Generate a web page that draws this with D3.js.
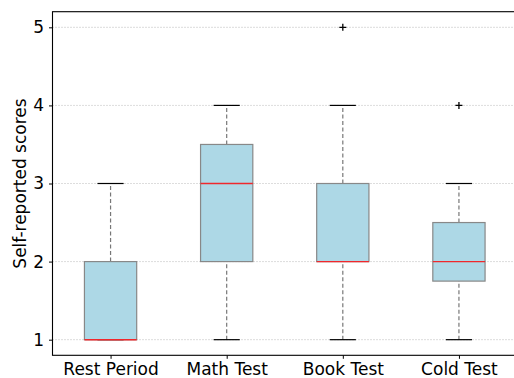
<!DOCTYPE html>
<html>
<head>
<meta charset="utf-8">
<script src="https://cdn.jsdelivr.net/npm/d3@7"></script>
<style>
  html, body { margin: 0; padding: 0; background: #fff; }
  svg { display: block; font-family: "DejaVu Sans", sans-serif; }
</style>
</head>
<body>
<svg id="chart" width="514" height="378"></svg>
<script>
// Conditions along the x axis
const categories = ["Rest Period", "Math Test", "Book Test", "Cold Test"];
// Five-number summaries per condition
const whiskerLow = [1, 1, 1, 1];
const q1Values = [1, 2, 2, 1.75];
const medians = [1, 3, 2, 2];
const q3Values = [2, 3.5, 3, 2.5];
const whiskerHigh = [3, 4, 4, 3];
// Points beyond the whiskers
const outliers = [[], [], [5], [4]];
const yTicks = [1, 2, 3, 4, 5];

const svg = d3.select("#chart");
const margin = { left: 53, right: -3, top: 11.7, bottom: 22.7 };
const W = 514, H = 378;
const fontSize = "17px";

const x = d3.scaleLinear().domain([0.5, 4.5]).range([margin.left - 0.5, W - margin.right]);
const y = d3.scaleLinear().domain([0.8, 5.2]).range([H - margin.bottom, margin.top]);

const boxHalf = 0.225;  // in category units
const capHalf = 0.1125;

// horizontal dotted grid
svg.append("g").selectAll("line").data(yTicks).join("line")
  .attr("x1", x(0.5)).attr("x2", x(4.5))
  .attr("y1", d => y(d)).attr("y2", d => y(d))
  .attr("stroke", "#a8a8a8").attr("stroke-width", 0.8)
  .attr("stroke-dasharray", "1,2");

const g = svg.append("g");
categories.forEach((c, i) => {
  const p = i + 1;
  const cx = x(p);
  // whiskers
  [[whiskerLow[i], q1Values[i]], [q3Values[i], whiskerHigh[i]]].forEach(([a, b]) => {
    if (a !== b) {
      g.append("line").attr("x1", cx).attr("x2", cx)
        .attr("y1", y(a)).attr("y2", y(b))
        .attr("stroke", "#777").attr("stroke-width", 1.2)
        .attr("stroke-dasharray", "4,2.5");
    }
  });
  // box
  g.append("rect")
    .attr("x", x(p - boxHalf)).attr("width", x(p + boxHalf) - x(p - boxHalf))
    .attr("y", y(q3Values[i])).attr("height", y(q1Values[i]) - y(q3Values[i]))
    .attr("fill", "#add8e6").attr("stroke", "#888").attr("stroke-width", 1.2);
  // caps
  [whiskerLow[i], whiskerHigh[i]].forEach(v => {
    g.append("line").attr("x1", x(p - capHalf)).attr("x2", x(p + capHalf))
      .attr("y1", y(v)).attr("y2", y(v))
      .attr("stroke", "#000").attr("stroke-width", 1.2);
  });
  // median
  g.append("line").attr("x1", x(p - boxHalf)).attr("x2", x(p + boxHalf))
    .attr("y1", y(medians[i])).attr("y2", y(medians[i]))
    .attr("stroke", "#f0282c").attr("stroke-width", 1.4);
  // outliers as '+'
  outliers[i].forEach(v => {
    const oy = y(v);
    g.append("path")
      .attr("d", `M${cx - 3.5},${oy}H${cx + 3.5}M${cx},${oy - 3.5}V${oy + 3.5}`)
      .attr("stroke", "#000").attr("stroke-width", 1.3).attr("fill", "none");
  });
});

// axes
const xAxis = d3.axisBottom(x).tickValues([1, 2, 3, 4])
  .tickFormat(d => categories[d - 1]).tickSize(3.5).tickPadding(4);
const yAxis = d3.axisLeft(y).tickValues(yTicks).tickFormat(d3.format("d"))
  .tickSize(3.5).tickPadding(5);

const gx = svg.append("g").attr("transform", `translate(0,${y(0.8)})`).call(xAxis);
const gy = svg.append("g").attr("transform", `translate(${x(0.5)},0)`).call(yAxis);
[gx, gy].forEach(a => {
  a.attr("font-size", null).attr("font-family", null);
  a.select(".domain").remove();
  a.selectAll(".tick line").attr("stroke", "#000").attr("stroke-width", 1);
  a.selectAll(".tick text").attr("fill", "#000")
    .attr("font-size", fontSize).attr("font-family", "DejaVu Sans, sans-serif");
});

// spines
svg.append("rect")
  .attr("x", x(0.5)).attr("y", y(5.2))
  .attr("width", x(4.5) - x(0.5)).attr("height", y(0.8) - y(5.2))
  .attr("fill", "none").attr("stroke", "#000").attr("stroke-width", 1.1);

// y label
svg.append("text")
  .attr("transform", `translate(26,${(y(0.8) + y(5.2)) / 2}) rotate(-90)`)
  .attr("text-anchor", "middle")
  .attr("font-size", fontSize)
  .attr("font-family", "DejaVu Sans, sans-serif")
  .text("Self-reported scores");
</script>
</body>
</html>
